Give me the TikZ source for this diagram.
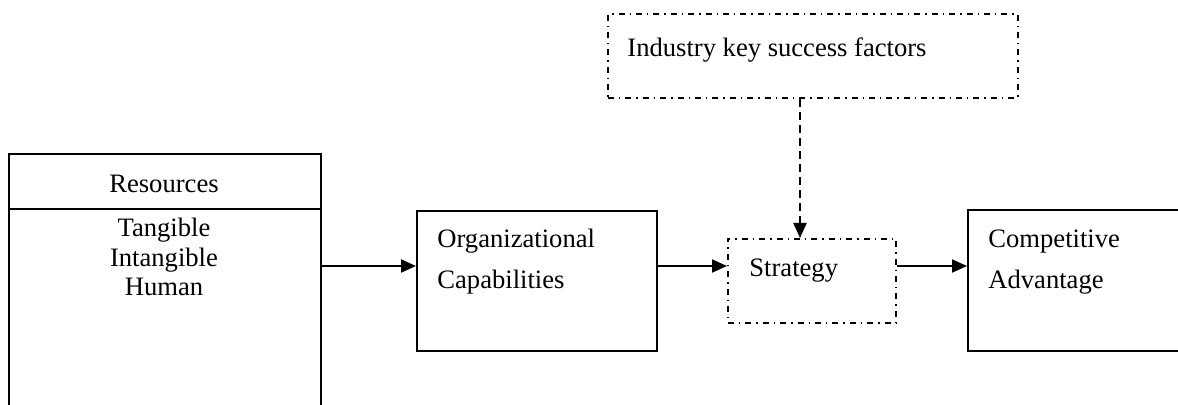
\documentclass[tikz,border=0pt]{standalone}
\usepackage{fontspec}
\setmainfont{Liberation Serif}
\usetikzlibrary{arrows.meta,positioning}
\tikzset{%
   box/.style={
      draw,
      line width=1pt,
      inner sep=0pt
   },
   dashbox/.style={
      draw,
      line width=0.9pt,
      dash pattern=on 3pt off 2.5pt on 0.7pt off 2.5pt,
      inner sep=0pt
   },
   lbl/.style={
      inner sep=0pt,
      font=\fontsize{13.3}{20.5}\selectfont,
      align=left
   },
   flow/.style={
      -{Triangle[length=7.5pt,width=6.5pt]},
      line width=1pt
   },
   hint/.style={
      -{Triangle[length=7.5pt,width=6.5pt]},
      line width=1pt,
      dash pattern=on 4pt off 2.5pt
   },
}

\begin{document}
\begin{tikzpicture}[x=0.5pt, y=-0.5pt]
   \useasboundingbox (0,0) rectangle (1178,405);
   % boxes
   \node[box, anchor=north west, minimum width=156pt, minimum height=133.5pt] (res) at (8,153) {};
   \node[box, anchor=north west, minimum width=120pt, minimum height=70pt] (org) at (416,210) {};
   \node[dashbox, anchor=north west, minimum width=84pt, minimum height=42pt] (strat) at (727,238) {};
   \node[box, anchor=north west, minimum width=111.5pt, minimum height=70.5pt] (comp) at (967,209) {};
   \node[dashbox, anchor=north west, minimum width=205pt, minimum height=42pt] (ind) at (607,13) {};
   \draw[line width=1pt] (res.west |- 0,209) -- (res.east |- 0,209);
   % texts
   \node[lbl] (res-title) at (164,184) {Resources};
   \node[lbl, align=center, font=\fontsize{13.3}{14.8}\selectfont] (res-list) at (164,257) {Tangible\\Intangible\\Human};
   \node[lbl, anchor=west] (org-txt) at (437,262) {Organizational\\Capabilities};
   \node[lbl, anchor=west] (strat-txt) at (749,271) {Strategy};
   \node[lbl, anchor=west] (comp-txt) at (988,262) {Competitive\\Advantage};
   \node[lbl, anchor=west] (ind-txt) at (627,50) {Industry key success factors};
   % connectors
   \coordinate (lane) at (0,266);
   \coordinate (drop) at (800,0);
   \draw[flow] (res.east |- lane) -- (org.west |- lane);
   \draw[flow] (org.east |- lane) -- (strat.west |- lane);
   \draw[flow] (strat.east |- lane) -- (comp.west |- lane);
   \draw[hint] (ind.south -| drop) -- (strat.north -| drop);
\end{tikzpicture}
\end{document}
